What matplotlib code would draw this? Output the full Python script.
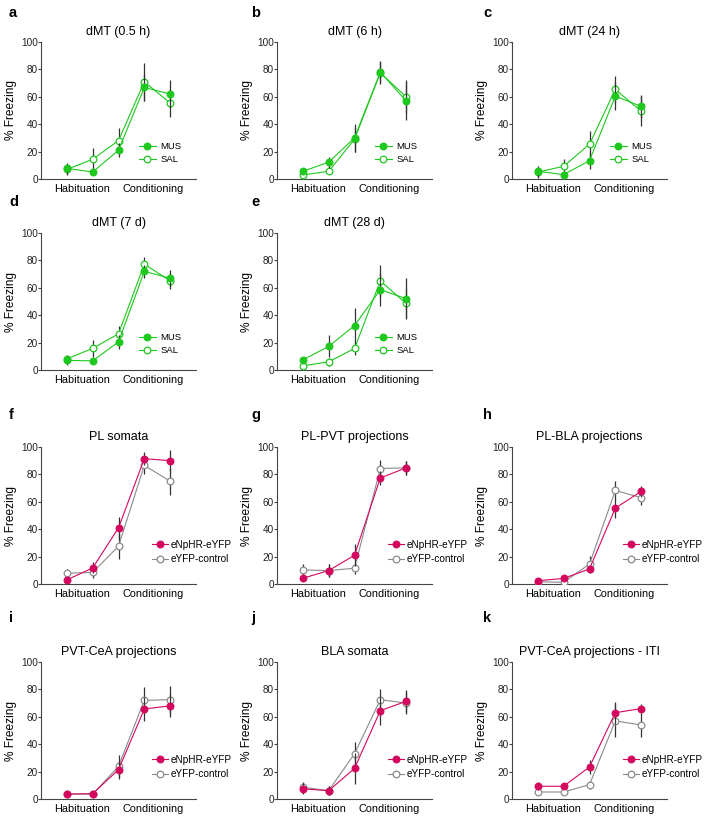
import matplotlib
matplotlib.use("Agg")
import matplotlib.pyplot as plt

plt.rcParams['font.family'] = ['Liberation Sans', 'DejaVu Sans']

trials = [1, 2, 3, 4, 5]
phase_labels = ["Habituation", "Conditioning"]
phase_pos = [1.6, 4.35]

# panels a-e : dMT, MUS vs SAL
titles_top = ["dMT (0.5 h)", "dMT (6 h)", "dMT (24 h)", "dMT (7 d)", "dMT (28 d)"]
mus_mean = [[7.8, 5.1, 21, 66.8, 62],
            [5.6, 12.3, 30, 78, 57],
            [5.6, 3.2, 13.4, 60.5, 53],
            [7, 6.7, 20.5, 72, 67],
            [7.4, 17.2, 32.4, 58.7, 52]]
mus_err = [[4, 2, 5, 10, 10],
           [2, 4, 10, 8, 14],
           [4, 2, 6, 10, 8.5],
           [3, 2, 5, 5, 6],
           [2, 8, 13, 12, 15]]
sal_mean = [[7, 14.4, 28, 71, 55.4],
            [3, 5.6, 29, 77.5, 60],
            [5, 9.3, 25.4, 65.4, 49.5],
            [8.1, 15.8, 26.4, 77.3, 65],
            [3, 6, 15.7, 65, 48.6]]
sal_err = [[4, 8, 9, 14, 10],
           [2, 2, 9, 8, 12],
           [4, 5, 10, 10, 11],
           [3, 6, 6, 5, 6],
           [2, 3, 5, 12, 11]]

# panels f-k : eNpHR-eYFP vs eYFP-control
titles_bot = ["PL somata", "PL-PVT projections", "PL-BLA projections",
              "PVT-CeA projections", "BLA somata", "PVT-CeA projections - ITI"]
nphr_mean = [[3, 11.7, 41, 91.5, 90],
             [4.2, 9.8, 21, 77.4, 84.8],
             [2.4, 4.1, 11, 55.4, 67.6],
             [3.6, 3.9, 21.4, 65.7, 68],
             [7.4, 6.1, 22.3, 64.5, 71.3],
             [9.3, 9.3, 23.4, 63, 66]]
nphr_err = [[2, 4, 8, 4.5, 7.5],
            [2, 4.5, 8, 5, 5],
            [1.5, 1.5, 3, 7, 4],
            [1.5, 1.5, 6.5, 8.5, 8.5],
            [4, 3.5, 11, 10.5, 8],
            [3, 2, 5, 8, 3]]
yfp_mean = [[7.8, 8.5, 27.6, 86.6, 75],
            [10.3, 9.8, 11.5, 84.3, 84.8],
            [1.7, 1.2, 14.6, 68.3, 63],
            [3.6, 3.6, 23.8, 72, 72.5],
            [8.6, 6.1, 33, 72.5, 70],
            [5.1, 5.1, 10.5, 57, 54]]
yfp_err = [[3, 4, 9.5, 6, 10],
           [4, 4.5, 4, 6, 5],
           [1, 1, 5.5, 7, 5],
           [1, 1, 8, 10, 10],
           [4, 3.5, 8.5, 7.5, 8],
           [1.5, 1.5, 3, 12, 9]]

green = "#1ec81e"
magenta = "#d4075f"
grey = "#8a8a8a"
errc = "#333333"

W, H = 709, 821
fig = plt.figure(figsize=(W / 100, H / 100), dpi=100)

col_x = [41, 277, 512]
row_top = [42, 233, 447, 662]
ax_w, ax_h = 155, 137


def make_ax(col, row):
    return fig.add_axes([col_x[col] / W, 1 - (row_top[row] + ax_h) / H, ax_w / W, ax_h / H])


def style(ax, title):
    ax.set_xlim(0, 6)
    ax.set_ylim(0, 100)
    ax.set_yticks([0, 20, 40, 60, 80, 100])
    ax.set_xticks(phase_pos)
    ax.set_xticklabels(phase_labels, fontsize=7.8)
    ax.tick_params(axis='x', length=0, pad=3.5)
    ax.tick_params(axis='y', length=2, width=0.8, labelsize=7.2, pad=0.3, color="#444444",
                   labelcolor="#222222")
    for s in ['top', 'right']:
        ax.spines[s].set_visible(False)
    for s in ['left', 'bottom']:
        ax.spines[s].set_linewidth(0.8)
        ax.spines[s].set_color("#444444")
    ax.set_ylabel("% Freezing", fontsize=8.6, labelpad=3)
    ax.set_title(title, fontsize=9, pad=5)


def series(ax, mean, err, color, face, label, z):
    ax.errorbar(trials, mean, yerr=err, fmt='none', ecolor=errc, elinewidth=0.9,
                capsize=0, zorder=z)
    ax.plot(trials, mean, '-o', color=color, lw=0.8, ms=4.8, mfc=face,
            mec=color, mew=0.9, label=label, zorder=z + 1)


pos_top = [(0, 0), (1, 0), (2, 0), (0, 1), (1, 1)]
for i in range(5):
    c, r = pos_top[i]
    ax = make_ax(c, r)
    series(ax, sal_mean[i], sal_err[i], green, 'white', 'SAL', 2)
    series(ax, mus_mean[i], mus_err[i], green, green, 'MUS', 4)
    style(ax, titles_top[i])
    h, l = ax.get_legend_handles_labels()
    ax.legend(h[::-1], l[::-1], loc='center left', bbox_to_anchor=(0.6, 0.19),
              frameon=False, fontsize=6.8, handlelength=1.8, labelspacing=0.45,
              handletextpad=0.5, borderpad=0)

for i in range(6):
    c, r = i % 3, 2 + i // 3
    ax = make_ax(c, r)
    series(ax, yfp_mean[i], yfp_err[i], grey, 'white', 'eYFP-control', 2)
    series(ax, nphr_mean[i], nphr_err[i], magenta, magenta, 'eNpHR-eYFP', 4)
    style(ax, titles_bot[i])
    h, l = ax.get_legend_handles_labels()
    ax.legend(h[::-1], l[::-1], loc='center left', bbox_to_anchor=(0.685, 0.235),
              frameon=False, fontsize=7.2, handlelength=1.6, labelspacing=0.45,
              handletextpad=0.2, borderpad=0)

letter_xy = {'a': (9, 13), 'b': (251, 13), 'c': (483, 13),
             'd': (9, 202), 'e': (251, 202),
             'f': (9, 415), 'g': (251, 415), 'h': (483, 415),
             'i': (9, 618), 'j': (251, 618), 'k': (483, 618)}
for k, (x, y) in letter_xy.items():
    fig.text(x / W, 1 - y / H, k, fontsize=10.5, fontweight='bold', va='center', ha='left')

fig.savefig("out.png", dpi=100)
